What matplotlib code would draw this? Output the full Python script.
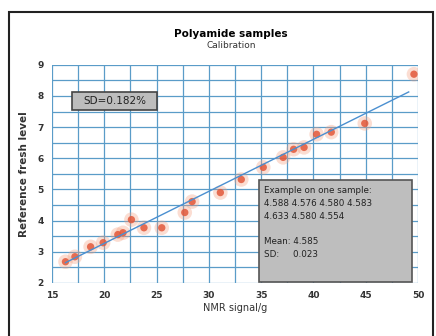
import matplotlib.pyplot as plt
import matplotlib.patches as patches
import numpy as np

# NMR signal/g vs reference level
nmr_signal = [16.3, 17.2, 18.7, 19.9, 21.3, 21.8, 22.6, 23.8, 25.5, 27.7, 28.4,
              31.1, 33.1, 35.2, 37.1, 38.1, 39.1, 40.3, 41.7, 44.9, 49.6]
ref_level = [2.68, 2.84, 3.16, 3.29, 3.55, 3.61, 4.03, 3.77, 3.77, 4.26, 4.61,
             4.90, 5.32, 5.71, 6.03, 6.29, 6.35, 6.77, 6.84, 7.12, 8.70]

# regression line end points
fit_x = [16.3, 49.1]
fit_y = [2.65, 8.13]

x_ticks = [15, 20, 25, 30, 35, 40, 45, 50]
y_ticks = [2, 3, 4, 5, 6, 7, 8, 9]

repeats = ["4.588", "4.576", "4.580", "4.583", "4.633", "4.580", "4.554"]
mean_txt = "4.585"
sd_txt = "0.023"

fig = plt.figure(figsize=(4.36, 3.36), dpi=100)
ax = fig.add_axes([0.119, 0.158, 0.840, 0.649])

# grid every 2.5 / 0.5
ax.set_xticks(np.arange(15, 50.1, 2.5), minor=True)
ax.set_yticks(np.arange(2, 9.01, 0.5), minor=True)
ax.grid(which='both', color='#5a9cc8', linewidth=0.9)
ax.set_axisbelow(True)

# glow + dots
ax.scatter(nmr_signal, ref_level, s=110, color='#f4a080', alpha=0.35, edgecolors='none', zorder=3)
ax.scatter(nmr_signal, ref_level, s=28, color='#e2583a', alpha=0.85, edgecolors='none', zorder=4)
ax.plot(fit_x, fit_y, color='#4a8fd0', linewidth=1.0, zorder=5)

ax.set_xlim(15, 50)
ax.set_ylim(2, 9)
ax.set_xticks(x_ticks)
ax.set_yticks(y_ticks)
ax.tick_params(which='both', length=0, labelsize=6.5, pad=6, colors='#333333')
for lbl in ax.get_xticklabels() + ax.get_yticklabels():
    lbl.set_fontweight('bold')
for s in ax.spines.values():
    s.set_visible(False)

ax.set_xlabel('NMR signal/g', fontsize=7, color='#333333', labelpad=2)
ax.set_ylabel('Reference fresh level', fontsize=7.5, fontweight='bold', color='#333333', labelpad=6)

fig.text(0.53, 0.900, 'Polyamide samples', ha='center', va='center', fontsize=7.5, fontweight='bold')
fig.text(0.53, 0.866, 'Calibration', ha='center', va='center', fontsize=6.5, color='#333333')

# SD box
ax.add_patch(patches.Rectangle((0.055, 0.794), 0.232, 0.082, transform=ax.transAxes,
                               facecolor='#bdbdbd', edgecolor='#444444', linewidth=1.2, zorder=6))
ax.text(0.171, 0.835, 'SD=0.182%', transform=ax.transAxes, ha='center', va='center',
        fontsize=7.5, color='#222222', zorder=7)

# example box
ax.add_patch(patches.Rectangle((0.566, 0.005), 0.418, 0.467, transform=ax.transAxes,
                               facecolor='#bebebe', edgecolor='#555555', linewidth=1.2, zorder=6))
info = ("Example on one sample:\n" + " ".join(repeats[:4]) + "\n" + " ".join(repeats[4:])
        + "\n\nMean: " + mean_txt + "\nSD:     " + sd_txt)
ax.text(0.578, 0.445, info, transform=ax.transAxes, ha='left', va='top',
        fontsize=6.3, linespacing=1.55, color='#222222', zorder=7)

# outer frame
fig.patches.append(patches.Rectangle((0.0206, -0.02), 0.972, 0.984, transform=fig.transFigure,
                                     fill=False, edgecolor='#222222', linewidth=1.5))

fig.savefig('out.png', dpi=100)
